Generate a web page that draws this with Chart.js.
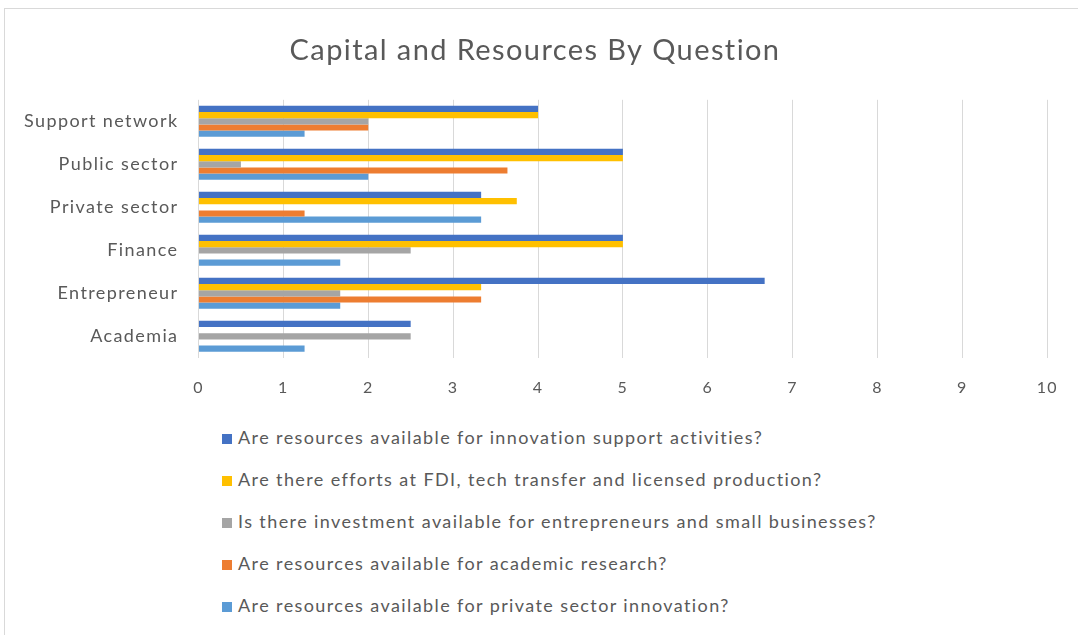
<!DOCTYPE html>
<html>
<head>
<meta charset="utf-8">
<script src="https://cdn.jsdelivr.net/npm/chart.js@4.4.1/dist/chart.umd.min.js"></script>
<style>
  body { margin: 0; background: #fff; font-family: Lato, "Open Sans", sans-serif; }
  #wrap { position: relative; width: 1078px; height: 635px; overflow: hidden; }
  #frame { position: absolute; left: 4px; top: 8px; width: 1080px; height: 640px; border: 1px solid #d9d9d9; }
  #chart { position: absolute; left: 0; top: 0; }
  #legend { position: absolute; left: 222px; top: 425px; }
  .item { height: 42px; line-height: 24px; font-size: 18px; letter-spacing: 1.4px; color: #595959; white-space: nowrap; }
  .box { display: inline-block; width: 10px; height: 10px; margin-right: 6px; vertical-align: 0px; }
</style>
</head>
<body>
<div id="wrap">
  <div id="frame"></div>
  <canvas id="chart" width="1078" height="425"></canvas>
  <div id="legend"></div>
</div>
<script>
var categories = ["Support network", "Public sector", "Private sector", "Finance", "Entrepreneur", "Academia"];
var seriesNames = [
  "Are resources available for innovation support activities?",
  "Are there efforts at FDI, tech transfer and licensed production?",
  "Is there investment available for entrepreneurs and small businesses?",
  "Are resources available for academic research?",
  "Are resources available for private sector innovation?"
];
var innovationSupport = [4, 5, 3.33, 5, 6.67, 2.5];
var fdiTransfer       = [4, 5, 3.75, 5, 3.33, 0];
var smeInvestment     = [2, 0.5, 0, 2.5, 1.67, 2.5];
var academicResearch  = [2, 3.64, 1.25, 0, 3.33, 0];
var privateInnovation = [1.25, 2, 3.33, 1.67, 1.67, 1.25];
var xTicks = [0, 1, 2, 3, 4, 5, 6, 7, 8, 9, 10];
var colours = ["#4472C4", "#FFC000", "#A5A5A5", "#ED7D31", "#5B9BD5"];

var values = [innovationSupport, fdiTransfer, smeInvestment, academicResearch, privateInnovation];
var datasets = [];
for (var i = 0; i < values.length; i++) {
  datasets.push({
    label: seriesNames[i],
    data: values[i],
    backgroundColor: colours[i],
    borderWidth: 0,
    categoryPercentage: 0.72,
    barPercentage: 1.0
  });
}

// the original text is spaced out a bit, so widen every canvas glyph
var spacing = {
  id: 'spacing',
  beforeUpdate: function(chart) { chart.ctx.letterSpacing = '1.4px'; },
  beforeDraw: function(chart) { chart.ctx.letterSpacing = '1.4px'; }
};

var ctx = document.getElementById("chart").getContext("2d");
new Chart(ctx, {
  type: 'bar',
  data: { labels: categories, datasets: datasets },
  plugins: [spacing],
  options: {
    responsive: false,
    animation: false,
    indexAxis: 'y',
    layout: { padding: { left: 4, right: 12, top: 0, bottom: 8 } },
    plugins: {
      legend: { display: false },
      tooltip: { enabled: false },
      title: {
        display: true,
        text: "Capital and Resources By Question",
        color: "#595959",
        font: { family: "Lato", size: 29, weight: 'normal' },
        padding: { top: 33, bottom: 32 }
      }
    },
    scales: {
      x: {
        min: 0,
        max: 10,
        afterBuildTicks: function(axis) {
          axis.ticks = xTicks.map(function(v) { return { value: v }; });
        },
        grid: { color: "#d9d9d9", lineWidth: 1, drawTicks: false },
        border: { display: false },
        ticks: { color: "#595959", font: { family: "Lato", size: 16 }, padding: 20 }
      },
      y: {
        grid: { display: false, drawTicks: false },
        border: { display: false },
        ticks: { color: "#595959", font: { family: "Lato", size: 18 }, padding: 20 }
      }
    }
  }
});

var legend = document.getElementById("legend");
for (var j = 0; j < seriesNames.length; j++) {
  var row = document.createElement("div");
  row.className = "item";
  var box = document.createElement("span");
  box.className = "box";
  box.style.background = colours[j];
  row.appendChild(box);
  row.appendChild(document.createTextNode(seriesNames[j]));
  legend.appendChild(row);
}
</script>
</body>
</html>
